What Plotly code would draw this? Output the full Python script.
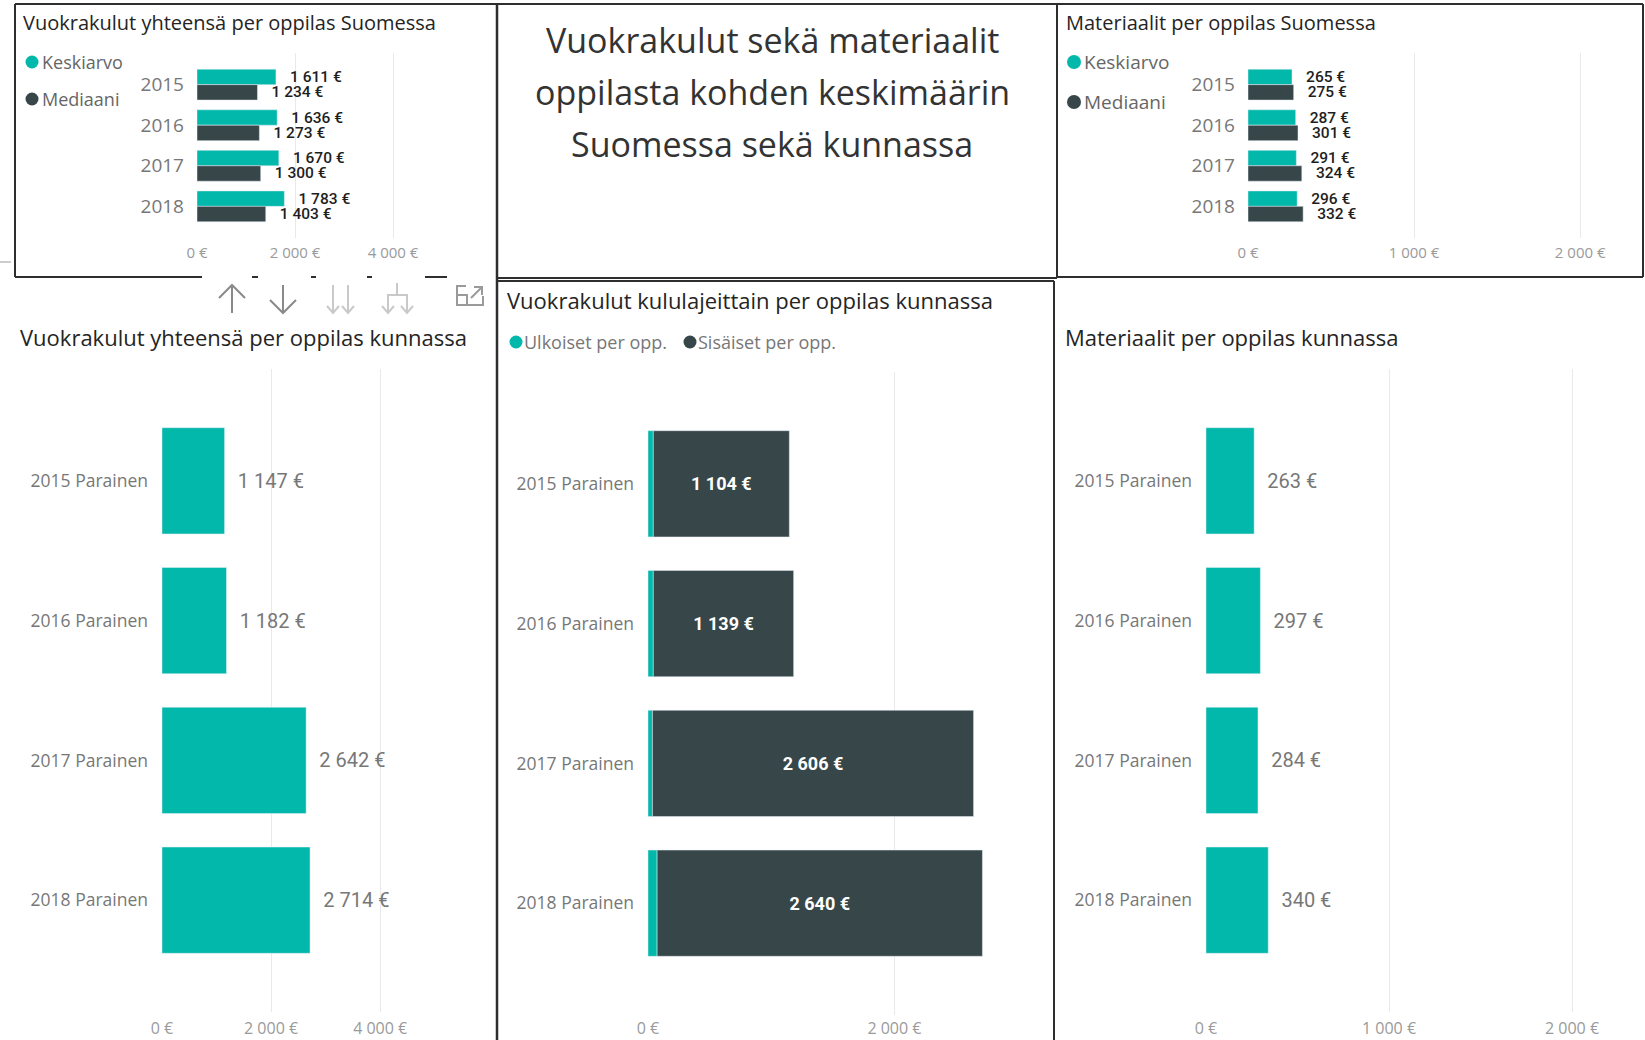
import plotly.graph_objects as go

# ---------------- data ----------------
years = ["2015", "2016", "2017", "2018"]
fi_rent_mean = [1611, 1636, 1670, 1783]
fi_rent_median = [1234, 1273, 1300, 1403]
fi_mat_mean = [265, 287, 291, 296]
fi_mat_median = [275, 301, 324, 332]

muni_cats = ["2015 Parainen", "2016 Parainen", "2017 Parainen", "2018 Parainen"]
muni_rent_total = [1147, 1182, 2642, 2714]
muni_rent_external = [43, 43, 36, 74]
muni_rent_internal = [1104, 1139, 2606, 2640]
muni_mat = [263, 297, 284, 340]

ticks_top_left = [0, 2000, 4000]
ticks_top_right = [0, 1000, 2000]
ticks_bottom_left = [0, 2000, 4000]
ticks_bottom_mid = [0, 2000]
ticks_bottom_right = [0, 1000, 2000]

TEAL = "#01B8AA"
DARK = "#374649"
W, H = 1645, 1040
UI = "Open Sans"
NUM = "Roboto"


def eur(v):
    return f"{v:,}".replace(",", "\u00a0") + "\u00a0€"


def X(px):
    return px / W


def Y(py):
    return 1 - py / H


def dom_x(a, b):
    return [X(a), X(b)]


def dom_y(top, bottom):
    return [Y(bottom), Y(top)]


fig = go.Figure()

# ---------------- top-left: rent Finland ----------------
pad_s = "\u2002\u2009"
TOPLAB = dict(family=NUM, size=15.5, color="#1e1e1e", weight=500)
fig.add_trace(go.Bar(y=years, x=fi_rent_mean, orientation="h", marker_color=TEAL,
                     text=[pad_s + eur(v) for v in fi_rent_mean], textposition="outside",
                     constraintext="none", cliponaxis=False, textfont=TOPLAB,
                     showlegend=False, xaxis="x", yaxis="y"))
fig.add_trace(go.Bar(y=years, x=fi_rent_median, orientation="h", marker_color=DARK,
                     text=[pad_s + eur(v) for v in fi_rent_median], textposition="outside",
                     constraintext="none", cliponaxis=False, textfont=TOPLAB,
                     showlegend=False, xaxis="x", yaxis="y"))

# ---------------- top-right: materials Finland ----------------
fig.add_trace(go.Bar(y=years, x=fi_mat_mean, orientation="h", marker_color=TEAL,
                     text=[pad_s + eur(v) for v in fi_mat_mean], textposition="outside",
                     constraintext="none", cliponaxis=False, textfont=TOPLAB,
                     showlegend=False, xaxis="x2", yaxis="y2"))
fig.add_trace(go.Bar(y=years, x=fi_mat_median, orientation="h", marker_color=DARK,
                     text=[pad_s + eur(v) for v in fi_mat_median], textposition="outside",
                     constraintext="none", cliponaxis=False, textfont=TOPLAB,
                     showlegend=False, xaxis="x2", yaxis="y2"))

# ---------------- bottom-left: rent municipality ----------------
pad_b = "\u2002"
BOTLAB = dict(family=NUM, size=20, color="#777777")
fig.add_trace(go.Bar(y=muni_cats, x=muni_rent_total, orientation="h", marker_color=TEAL,
                     text=[pad_b + eur(v) for v in muni_rent_total], textposition="outside",
                     constraintext="none", cliponaxis=False, textfont=BOTLAB,
                     showlegend=False, xaxis="x3", yaxis="y3"))

# ---------------- bottom-middle: rent by type ----------------
fig.add_trace(go.Bar(y=muni_cats, x=muni_rent_external, orientation="h", marker_color=TEAL,
                     offsetgroup="s", showlegend=False, xaxis="x4", yaxis="y4"))
fig.add_trace(go.Bar(y=muni_cats, x=muni_rent_internal, base=muni_rent_external,
                     orientation="h", marker_color=DARK, offsetgroup="s",
                     text=[eur(v) for v in muni_rent_internal], textposition="inside",
                     insidetextanchor="middle", constraintext="none",
                     insidetextfont=dict(family=NUM, size=18, color="white", weight="bold"),
                     showlegend=False, xaxis="x4", yaxis="y4"))

# ---------------- bottom-right: materials municipality ----------------
fig.add_trace(go.Bar(y=muni_cats, x=muni_mat, orientation="h", marker_color=TEAL,
                     text=[pad_b + eur(v) for v in muni_mat], textposition="outside",
                     constraintext="none", cliponaxis=False, textfont=BOTLAB,
                     showlegend=False, xaxis="x5", yaxis="y5"))

GRID = "#e9e9e9"


def xax(domain, rng, ticks, anchor, size, standoff):
    return dict(domain=domain, range=rng, tickvals=ticks, ticktext=[eur(t) for t in ticks],
                showgrid=True, gridcolor=GRID, gridwidth=1, zeroline=False, showline=False,
                ticks="", tickfont=dict(family=UI, size=size, color="#9a9a9a"),
                ticklabelstandoff=standoff, anchor=anchor, fixedrange=True, automargin=False)


def yax(domain, rng, anchor, size, standoff):
    return dict(domain=domain, range=rng, type="category", showgrid=False, zeroline=False,
                showline=False, ticks="", tickfont=dict(family=UI, size=size, color="#777777"),
                ticklabelstandoff=standoff, anchor=anchor, fixedrange=True, automargin=False)


layout = dict(
    width=W, height=H, margin=dict(l=0, r=0, t=0, b=0, pad=0, autoexpand=False),
    paper_bgcolor="white", plot_bgcolor="rgba(0,0,0,0)",
    barmode="group", bargap=0.24, bargroupgap=0,
    font=dict(family=UI),
    xaxis=xax(dom_x(197, 491), [0, 6000], ticks_top_left, "y", 15, 4),
    yaxis=yax(dom_y(53, 238), [3.78, -0.78], "x", 19, 12),
    xaxis2=xax(dom_x(1248, 1630), [0, 2300], ticks_top_right, "y2", 15, 4),
    yaxis2=yax(dom_y(53, 238), [3.78, -0.78], "x2", 19, 12),
    xaxis3=xax(dom_x(162, 462), [0, 5500], ticks_bottom_left, "y3", 16, 5),
    yaxis3=yax(dom_y(369, 1012), [3.8, -0.8], "x3", 17.5, 13),
    xaxis4=xax(dom_x(648, 1030), [0, 3100], ticks_bottom_mid, "y4", 16, 2),
    yaxis4=yax(dom_y(372, 1015), [3.8, -0.8], "x4", 17.5, 13),
    xaxis5=xax(dom_x(1206, 1620), [0, 2262], ticks_bottom_right, "y5", 16, 5),
    yaxis5=yax(dom_y(369, 1012), [3.8, -0.8], "x5", 17.5, 13),
)
fig.update_layout(**layout)

# ---------------- decorations ----------------
shapes = []
BORDER = "#2e2e2e"


def line(x0, y0, x1, y1, color=BORDER, width=2):
    shapes.append(dict(type="line", xref="paper", yref="paper", x0=X(x0), y0=Y(y0),
                       x1=X(x1), y1=Y(y1), line=dict(color=color, width=width)))


def path(pts, color, width=2):
    d = "M " + " L ".join(f"{X(a):.5f},{Y(b):.5f}" for a, b in pts)
    shapes.append(dict(type="path", xref="paper", yref="paper", path=d,
                       line=dict(color=color, width=width)))


def dot(cx, cy, r, color):
    shapes.append(dict(type="circle", xref="paper", yref="paper", x0=X(cx - r), x1=X(cx + r),
                       y0=Y(cy + r), y1=Y(cy - r), fillcolor=color, line=dict(width=0)))


# panel borders
line(15, 4, 1643, 4)
line(15, 4, 15, 277)
line(15, 277, 202, 277)
for a, b in [(252, 258), (311, 316), (367, 372), (425, 447)]:
    line(a, 277, b, 277)
line(497, 4, 497, 1040, width=2.5)
line(497, 278, 1057, 278)
line(1057, 4, 1057, 278)
line(1057, 277, 1643, 277)
line(1643, 4, 1643, 277)
line(497, 281, 1054, 281)
line(1054, 281, 1054, 1040)
line(0, 262, 11, 262, color="#9a9a9a", width=1)

# header icons
ICON = "#8a8a8a"
LIGHT = "#c9c9c9"
path([(232, 285), (232, 313)], ICON)
path([(219, 298), (232, 285), (245, 298)], ICON)
path([(283, 285), (283, 313)], ICON)
path([(270, 300), (283, 313), (296, 300)], ICON)
for cx in (333, 348):
    path([(cx, 285), (cx, 313)], LIGHT)
    path([(cx - 6, 306), (cx, 313), (cx + 6, 306)], LIGHT)
path([(397, 283), (397, 295)], LIGHT)
path([(388, 313), (388, 295), (407, 295), (407, 313)], LIGHT)
path([(382, 306), (388, 313), (394, 306)], LIGHT)
path([(401, 306), (407, 313), (413, 306)], LIGHT)
path([(466, 286), (457, 286), (457, 305), (483, 305), (483, 296)], "#9a9a9a")
path([(457, 295), (467, 295), (467, 305)], "#9a9a9a")
path([(471, 298), (482, 287)], "#9a9a9a")
path([(474, 287), (482, 287), (482, 295)], "#9a9a9a")

# legend dots
dot(32, 62, 6.5, TEAL)
dot(32, 99, 6.5, DARK)
dot(1074, 62, 7, TEAL)
dot(1074, 102, 7, DARK)
dot(516, 342, 6.5, TEAL)
dot(690, 342, 6.5, DARK)

fig.update_layout(shapes=shapes)

annotations = []


def text(x, y, s, size, color, anchor="left"):
    annotations.append(dict(x=X(x), y=Y(y), xref="paper", yref="paper", text=s,
                            showarrow=False, xanchor=anchor, yanchor="middle",
                            font=dict(family=UI, size=size, color=color)))


TITLE = "#252423"
text(21, 22, "Vuokrakulut yhteensä per oppilas Suomessa", 20, TITLE)
text(1064, 22, "Materiaalit per oppilas Suomessa", 20, TITLE)
text(18, 337, "Vuokrakulut yhteensä per oppilas kunnassa", 22, TITLE)
text(505, 300, "Vuokrakulut kululajeittain per oppilas kunnassa", 22, TITLE)
text(1063, 337, "Materiaalit per oppilas kunnassa", 22, TITLE)

for yy, s in [(40, "Vuokrakulut sekä materiaalit"), (92, "oppilasta kohden keskimäärin"),
              (144, "Suomessa sekä kunnassa")]:
    text(772, yy, s, 34, "#333333", anchor="center")

text(40, 62, "Keskiarvo", 18, "#666666")
text(40, 99, "Mediaani", 18, "#666666")
text(1082, 62, "Keskiarvo", 19, "#666666")
text(1082, 102, "Mediaani", 19, "#666666")
text(522, 342, "Ulkoiset per opp.", 18, "#777777")
text(696, 342, "Sisäiset per opp.", 18, "#777777")

fig.update_layout(annotations=annotations)

fig.write_html(
    "out.html",
    config={"displayModeBar": False},
    post_script="document.body.style.margin='0';document.body.style.padding='0';"
                "document.documentElement.style.overflow='hidden';"
                "document.body.style.overflow='hidden';",
)
